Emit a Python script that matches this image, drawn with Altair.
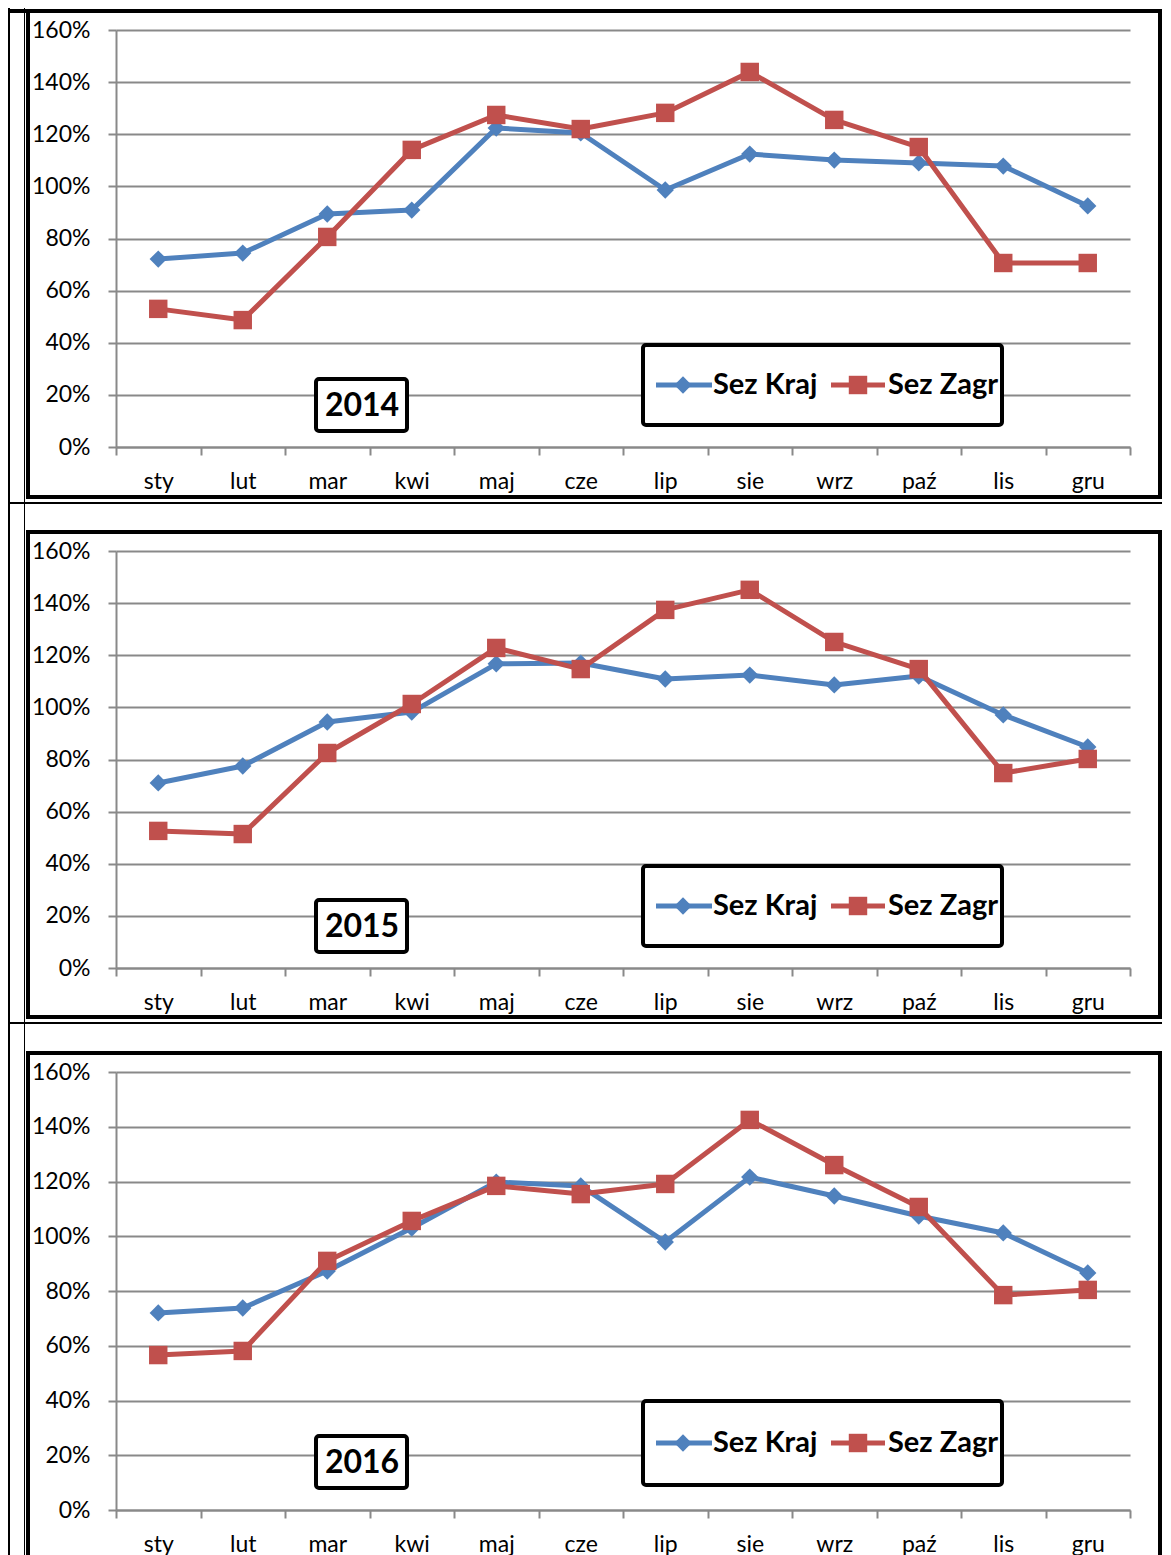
import altair as alt
import pandas as pd

months = ["sty", "lut", "mar", "kwi", "maj", "cze", "lip", "sie", "wrz", "paź", "lis", "gru"]
series_names = ["Sez Kraj", "Sez Zagr"]
years = ["2014", "2015", "2016"]

kraj_2014 = [72.1, 74.4, 89.4, 90.9, 122.4, 120.5, 98.6, 112.4, 110.1, 109.0, 107.8, 92.5]
zagr_2014 = [53.0, 48.7, 80.6, 114.0, 127.4, 122.0, 128.2, 143.9, 125.5, 115.1, 70.6, 70.6]
kraj_2015 = [71.0, 77.5, 94.4, 98.2, 116.7, 117.0, 110.9, 112.4, 108.6, 112.0, 97.1, 84.8]
zagr_2015 = [52.6, 51.4, 82.5, 101.3, 122.8, 114.7, 137.4, 145.1, 125.1, 114.7, 74.8, 80.2]
kraj_2016 = [72.0, 73.8, 87.3, 103.0, 119.8, 118.4, 97.9, 121.6, 114.7, 107.4, 101.2, 86.6]
zagr_2016 = [56.6, 58.1, 91.0, 105.6, 118.4, 115.4, 119.1, 142.5, 126.0, 110.7, 78.5, 80.4]

y_ticks = [0, 0.2, 0.4, 0.6, 0.8, 1.0, 1.2, 1.4, 1.6]

BLUE = "#4F81BD"
RED = "#C0504D"
GRID = "#898989"
FONT = "Lato"
W = 1014

one = alt.Data(values=[{"k": 1}])


def block(x1, x2, y1, y2, color="black"):
    return alt.Chart(one).mark_rect(color=color).encode(
        x=alt.value(x1), x2=alt.value(x2), y=alt.value(y1), y2=alt.value(y2)
    )


def framebox(x1, x2, y1, y2, fill=None, sw=4, r=0):
    kw = dict(stroke="black", strokeWidth=sw, cornerRadius=r)
    if fill:
        kw["fill"] = fill
    else:
        kw["fillOpacity"] = 0
    return alt.Chart(one).mark_rect(**kw).encode(
        x=alt.value(x1), x2=alt.value(x2), y=alt.value(y1), y2=alt.value(y2)
    )


def panel(year, kraj, zagr, h, leg_y, leg_h, yr_y, frame, extra=None):
    df = pd.DataFrame({
        "miesiąc": months * 2,
        "seria": [series_names[0]] * 12 + [series_names[1]] * 12,
        "wartość": [v / 100 for v in kraj + zagr],
    })
    x = alt.X("miesiąc:N", sort=months,
              scale=alt.Scale(type="band", paddingInner=0, paddingOuter=0),
              axis=alt.Axis(title=None, labelAngle=0, tickBand="extent",
                            domainColor=GRID, domainWidth=2, tickColor=GRID,
                            tickWidth=2, tickSize=8, labelFont=FONT,
                            labelFontSize=23, labelColor="black",
                            labelPadding=15, grid=False))
    y = alt.Y("wartość:Q", scale=alt.Scale(domain=[0, 1.6], nice=False),
              axis=alt.Axis(title=None, values=y_ticks, format=".0%",
                            domainColor=GRID, domainWidth=2, tickColor=GRID,
                            tickWidth=2, tickSize=8, labelFont=FONT,
                            labelFontSize=23, labelColor="black",
                            labelPadding=18, grid=True, gridColor=GRID,
                            gridWidth=2))
    base = alt.Chart(df).encode(x=x, y=y)
    kl = base.transform_filter(alt.datum.seria == series_names[0])
    zl = base.transform_filter(alt.datum.seria == series_names[1])
    layers = [
        kl.mark_line(color=BLUE, strokeWidth=5, strokeJoin="round", strokeCap="round"),
        kl.mark_point(shape="diamond", filled=True, size=300, color=BLUE, opacity=1),
        zl.mark_line(color=RED, strokeWidth=5, strokeJoin="round", strokeCap="round"),
        zl.mark_point(shape="square", filled=True, size=340, color=RED, opacity=1),
    ]
    # legend box
    layers.append(framebox(527, 886, leg_y - leg_h / 2, leg_y + leg_h / 2, fill="white", r=3))
    layers.append(alt.Chart(one).mark_rule(color=BLUE, strokeWidth=5).encode(
        x=alt.value(540), x2=alt.value(596), y=alt.value(leg_y)))
    layers.append(alt.Chart(one).mark_point(shape="diamond", filled=True, size=300, color=BLUE, opacity=1).encode(
        x=alt.value(567), y=alt.value(leg_y)))
    layers.append(alt.Chart(one).mark_text(text=series_names[0], font=FONT, fontSize=29, fontWeight="bold",
                                           align="left", baseline="middle", color="black").encode(
        x=alt.value(597), y=alt.value(leg_y)))
    layers.append(alt.Chart(one).mark_rule(color=RED, strokeWidth=5).encode(
        x=alt.value(715), x2=alt.value(769), y=alt.value(leg_y)))
    layers.append(alt.Chart(one).mark_point(shape="square", filled=True, size=340, color=RED, opacity=1).encode(
        x=alt.value(742), y=alt.value(leg_y)))
    layers.append(alt.Chart(one).mark_text(text=series_names[1], font=FONT, fontSize=29, fontWeight="bold",
                                           align="left", baseline="middle", color="black").encode(
        x=alt.value(772), y=alt.value(leg_y)))
    # year box
    layers.append(framebox(200, 291, yr_y - 26, yr_y + 26, fill="white", r=3))
    layers.append(alt.Chart(one).mark_text(text=year, font=FONT, fontSize=32, fontWeight="bold",
                                           align="center", baseline="middle", color="black").encode(
        x=alt.value(246), y=alt.value(yr_y + 1)))
    # panel frame (filled bars)
    layers.extend(frame)
    if extra:
        layers.extend(extra)
    return alt.layer(*layers).properties(width=W, height=h)


RIGHT = 1046  # right edge of the frame, relative to plot left

frame1 = [block(-90, RIGHT, -21, -17), block(-90, RIGHT, 465, 469),
          block(-90, -86, -21, 469), block(RIGHT - 4, RIGHT, -21, 469)]
frame2 = [block(-90, RIGHT, -21, -17), block(-90, RIGHT, 464, 468),
          block(-90, -86, -21, 468), block(RIGHT - 4, RIGHT, -21, 468)]
frame3 = [block(-90, RIGHT, -21, -17),
          block(-90, -86, -21, 483), block(RIGHT - 4, RIGHT, -21, 483)]

global_deco = [
    block(-108, -106, -22, 1525),
    block(-92, -91, -22, 1525),
    block(-108, -90, -21, -17),
    block(-108, RIGHT, 472, 474),
    block(-108, RIGHT, 992, 994),
]

p1 = panel(years[0], kraj_2014, zagr_2014, 417, 355, 80, 375, frame1, extra=global_deco)
p2 = panel(years[1], kraj_2015, zagr_2015, 417, 355, 80, 375, frame2)
p3 = panel(years[2], kraj_2016, zagr_2016, 438, 371, 84, 390, frame3)

chart = alt.vconcat(p1, p2, p3, spacing=104, bounds="flush").properties(
    padding=0
).configure_view(strokeWidth=0)

chart.save("out.html", embed_options={"renderer": "svg", "actions": False})
